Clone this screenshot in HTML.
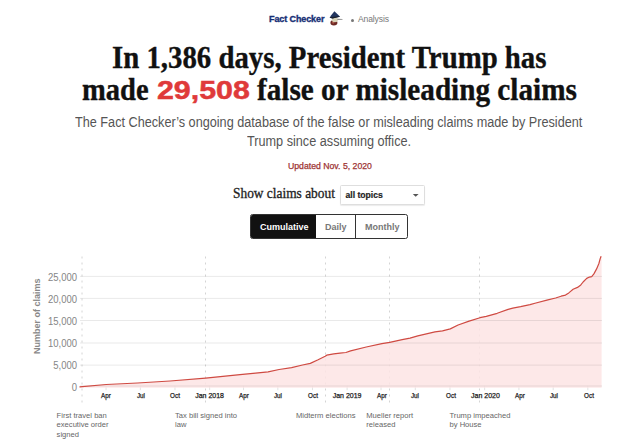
<!DOCTYPE html>
<html><head><meta charset="utf-8">
<style>
html,body{margin:0;padding:0;background:#fff;width:640px;height:444px;overflow:hidden;position:relative;}
.a{position:absolute;white-space:nowrap;}
.sans{font-family:"Liberation Sans",sans-serif;}
.serif{font-family:"Liberation Serif",serif;}
#fc{left:269px;top:13.7px;font-size:9px;font-weight:bold;color:#172f75;-webkit-text-stroke:0.35px #172f75;letter-spacing:-0.1px;}
#an{left:358px;top:13.7px;font-size:8.6px;color:#777;letter-spacing:-0.15px;}
#dot{left:351px;top:18.5px;width:3px;height:3px;border-radius:50%;background:#777;}
.t1{font-size:31px;font-weight:bold;color:#111;line-height:32px;transform-origin:0 0;-webkit-text-stroke:0.35px #111;}
#t1{left:112px;top:41.9px;transform:scaleX(0.929);}
#t2a{left:82px;top:73.9px;transform:scaleX(0.921);}
#t2b{left:157px;top:74px;font-size:26px;color:#df3a3a;-webkit-text-stroke:0.5px #df3a3a;transform:scaleX(1.167);}
#t2c{left:257px;top:73.9px;transform:scaleX(0.942);}
.sub{font-size:14px;color:#555;line-height:19px;transform-origin:0 0;transform:scaleX(0.905);}
#s1{left:75px;top:113px;}
#s2{left:247px;top:132px;}
#upd{left:288px;top:161px;font-size:8.7px;color:#9e3434;-webkit-text-stroke:0.25px #9e3434;}
#show{left:233px;top:186px;font-size:13.6px;color:#222;-webkit-text-stroke:0.3px #222;transform-origin:0 0;transform:scaleX(0.985);}
#sel{left:340px;top:185px;width:83px;height:18px;border:1px solid #dedede;border-radius:1.5px;box-shadow:0 1px 1px rgba(0,0,0,0.08);background:#fff;}
#seltxt{left:345.5px;top:190px;font-size:8.6px;font-weight:bold;color:#222;-webkit-text-stroke:0.2px #222;}
#arr{left:412.8px;top:194px;width:0;height:0;border-left:2.9px solid transparent;border-right:2.9px solid transparent;border-top:2.7px solid #555;}
#grp{left:250px;top:214px;width:156px;height:23px;border:1px solid #333;border-radius:2.5px;overflow:hidden;background:#fff;}
#cum{left:0;top:0;width:65px;height:23px;background:#111;}
#div2{left:104px;top:0;width:1px;height:23px;background:#333;}
.bt{font-size:9px;font-weight:bold;top:222px;}
#bc{left:260px;color:#fff;}
#bd{left:325px;color:#777;}
#bm{left:365px;color:#777;}
.yl{font-size:10px;color:#858585;text-align:right;width:40px;left:37px;margin-top:-0.5px;transform-origin:100% 0;transform:scaleX(0.95);}
.xl{font-size:7px;color:#222;width:50px;text-align:center;top:391.5px;transform:scaleX(0.9);-webkit-text-stroke:0.25px #222;}
.ann{font-size:7.6px;color:#666;line-height:9.6px;margin-top:1px;}
</style></head><body>
<div class="a sans" id="fc">Fact Checker</div>
<svg class="a" style="left:325px;top:8px" width="22" height="22" viewBox="0 0 22 22">
<ellipse cx="8.9" cy="14.8" rx="3.5" ry="2.7" fill="#6e2a24"/>
<circle cx="8.2" cy="14.6" r="1.1" fill="#b05a4c"/>
<ellipse cx="9.9" cy="11.8" rx="3" ry="2.5" fill="#d8d3b8"/>
<path d="M12.4 10.8 L17.6 11.1 L17.4 11.8 L12.4 12 Z" fill="#8c8c8c"/>
<path d="M9.4 3.2 L6 7.4 L4.6 9.8 L7.4 10.6 L15 8.8 L13.4 6.9 Z" fill="#22355f"/>
<path d="M4.6 9.6 L7.4 10.6 L15 8.8 L14 8.2 L6 9 Z" fill="#1a1f2a"/>
</svg>
<div class="a" id="dot"></div>
<div class="a sans" id="an">Analysis</div>

<div class="a serif t1" id="t1">In 1,386 days, President Trump has</div>
<div class="a serif t1" id="t2a">made</div>
<div class="a sans t1" id="t2b">29,508</div>
<div class="a serif t1" id="t2c">false or misleading claims</div>

<div class="a sans sub" id="s1">The Fact Checker’s ongoing database of the false or misleading claims made by President</div>
<div class="a sans sub" id="s2">Trump since assuming office.</div>
<div class="a sans" id="upd">Updated Nov. 5, 2020</div>

<div class="a serif" id="show">Show claims about</div>
<div class="a" id="sel"></div>
<div class="a sans" id="seltxt">all topics</div>
<svg class="a" style="left:0;top:0" width="640" height="210"><path d="M412.8,193.9 L418.6,193.9 L415.7,196.7 Z" fill="#555"/></svg>

<div class="a" id="grp"><div class="a" id="cum"></div><div class="a" id="div2"></div></div>
<div class="a sans bt" id="bc">Cumulative</div>
<div class="a sans bt" id="bd">Daily</div>
<div class="a sans bt" id="bm">Monthly</div>

<svg class="a" style="left:0;top:0" width="640" height="444" viewBox="0 0 640 444">

<g stroke="#d4d4d4" stroke-width="1" stroke-dasharray="2,4">
<line x1="82" y1="256.5" x2="82" y2="406"/>
<line x1="205.5" y1="256.5" x2="205.5" y2="406"/>
<line x1="325.5" y1="256.5" x2="325.5" y2="406"/>
<line x1="389.5" y1="256.5" x2="389.5" y2="406"/>
<line x1="479.5" y1="256.5" x2="479.5" y2="406"/>
</g>
<g stroke="#dcdcdc" stroke-width="0.8"><line x1="106.05" y1="385.6" x2="106.05" y2="390.2"/><line x1="140.33" y1="385.6" x2="140.33" y2="390.2"/><line x1="174.98" y1="385.6" x2="174.98" y2="390.2"/><line x1="209.64" y1="385.6" x2="209.64" y2="390.2"/><line x1="243.54" y1="385.6" x2="243.54" y2="390.2"/><line x1="277.82" y1="385.6" x2="277.82" y2="390.2"/><line x1="312.48" y1="385.6" x2="312.48" y2="390.2"/><line x1="347.13" y1="385.6" x2="347.13" y2="390.2"/><line x1="381.04" y1="385.6" x2="381.04" y2="390.2"/><line x1="415.32" y1="385.6" x2="415.32" y2="390.2"/><line x1="449.97" y1="385.6" x2="449.97" y2="390.2"/><line x1="484.63" y1="385.6" x2="484.63" y2="390.2"/><line x1="518.91" y1="385.6" x2="518.91" y2="390.2"/><line x1="553.19" y1="385.6" x2="553.19" y2="390.2"/><line x1="587.84" y1="385.6" x2="587.84" y2="390.2"/></g>
<path d="M79.5,386.9 L106.25,384.5 L137.5,383 L170,381 L205.6,378.1 L240,374.7 L255.6,373.1 L268.1,371.9 L279.1,369.5 L291.6,367.7 L302.5,365 L310.3,363.4 L318.1,359.8 L325.2,356.25 L326.7,355.2 L333.75,353.9 L340,353.1 L345.9,352.5 L350.6,350.9 L366.25,347 L381.9,343.6 L389.7,342.3 L402.2,339.7 L410,338.1 L417.8,335.8 L435,331.9 L442.5,330.8 L450.3,328.9 L458.1,325 L469.1,321.1 L480,317.7 L486.25,316.4 L497.2,313.3 L508.1,309.4 L512.8,308.1 L520.6,306.7 L530,304.7 L535.9,303 L546.9,300.2 L555.6,298 L561.1,296.2 L565.5,295.1 L568.8,292.9 L573.1,289.3 L577.5,287.4 L580.8,284.9 L583.1,282 L586.7,278.4 L589.4,277.05 L591.7,276.6 L593.9,273.9 L596.6,268.9 L598.9,263.5 L600.2,258.6 L601.1,256.3 L601.6,256.3 L601.6,387.8 L79.5,387.8 Z" fill="#fde4e4" fill-opacity="0.85"/>
<g stroke="#000" stroke-opacity="0.085" stroke-width="1">
<line x1="80" y1="276.4" x2="602" y2="276.4"/>
<line x1="80" y1="298.4" x2="602" y2="298.4"/>
<line x1="80" y1="320.5" x2="602" y2="320.5"/>
<line x1="80" y1="343" x2="602" y2="343"/>
<line x1="80" y1="365.1" x2="602" y2="365.1"/>
<line x1="80" y1="386" x2="602" y2="386"/>
</g>
<path d="M79.5,386.9 L106.25,384.5 L137.5,383 L170,381 L205.6,378.1 L240,374.7 L255.6,373.1 L268.1,371.9 L279.1,369.5 L291.6,367.7 L302.5,365 L310.3,363.4 L318.1,359.8 L325.2,356.25 L326.7,355.2 L333.75,353.9 L340,353.1 L345.9,352.5 L350.6,350.9 L366.25,347 L381.9,343.6 L389.7,342.3 L402.2,339.7 L410,338.1 L417.8,335.8 L435,331.9 L442.5,330.8 L450.3,328.9 L458.1,325 L469.1,321.1 L480,317.7 L486.25,316.4 L497.2,313.3 L508.1,309.4 L512.8,308.1 L520.6,306.7 L530,304.7 L535.9,303 L546.9,300.2 L555.6,298 L561.1,296.2 L565.5,295.1 L568.8,292.9 L573.1,289.3 L577.5,287.4 L580.8,284.9 L583.1,282 L586.7,278.4 L589.4,277.05 L591.7,276.6 L593.9,273.9 L596.6,268.9 L598.9,263.5 L600.2,258.6 L601.1,256.3" fill="none" stroke="#cf4a42" stroke-width="1.2" stroke-linejoin="round"/>
</svg>

<div class="a sans yl" style="top:272px">25,000</div>
<div class="a sans yl" style="top:294px">20,000</div>
<div class="a sans yl" style="top:316px">15,000</div>
<div class="a sans yl" style="top:338px">10,000</div>
<div class="a sans yl" style="top:360px">5,000</div>
<div class="a sans yl" style="top:382px">0</div>
<div class="a sans" id="ylab" style="left:32px;top:354px;font-size:9px;font-weight:bold;color:#888;transform:rotate(-90deg);transform-origin:0 0;">Number of claims</div>

<div class="a sans xl" style="left:80.90px">Apr</div>
<div class="a sans xl" style="left:115.60px">Jul</div>
<div class="a sans xl" style="left:150.30px">Oct</div>
<div class="a sans xl" style="left:184.60px;transform:none">Jan 2018</div>
<div class="a sans xl" style="left:219.20px">Apr</div>
<div class="a sans xl" style="left:253.30px">Jul</div>
<div class="a sans xl" style="left:287.80px">Oct</div>
<div class="a sans xl" style="left:322.10px;transform:none">Jan 2019</div>
<div class="a sans xl" style="left:356.65px">Apr</div>
<div class="a sans xl" style="left:390.00px">Jul</div>
<div class="a sans xl" style="left:425.95px">Oct</div>
<div class="a sans xl" style="left:460.50px;transform:none">Jan 2020</div>
<div class="a sans xl" style="left:494.60px">Apr</div>
<div class="a sans xl" style="left:529.40px">Jul</div>
<div class="a sans xl" style="left:563.90px">Oct</div>

<div class="a sans ann" style="left:56.6px;top:409.5px">First travel ban<br>executive order<br>signed</div>
<div class="a sans ann" style="left:175px;top:409.5px">Tax bill signed into<br>law</div>
<div class="a sans ann" style="left:296px;top:409.5px">Midterm elections</div>
<div class="a sans ann" style="left:366.3px;top:409.5px">Mueller report<br>released</div>
<div class="a sans ann" style="left:449.5px;top:409.5px">Trump impeached<br>by House</div>
</body></html>
